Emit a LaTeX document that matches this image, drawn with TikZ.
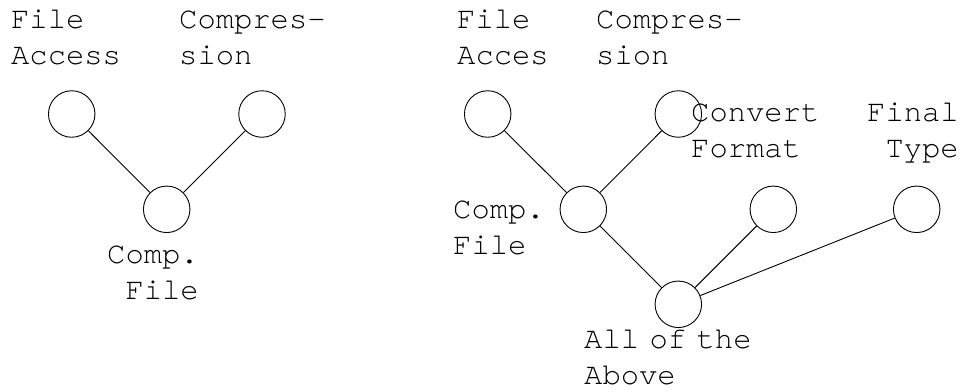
\documentclass[tikz,border=0pt]{standalone}
\usepackage{fontspec}
\setmonofont{TeX Gyre Cursor}
\newcommand{\twoline}[2]{\vtop{\hbox{#1}\hbox{#2}}}
\begin{document}
\begin{tikzpicture}[x=1pt,y=-1pt,
  vert/.style={circle,draw,line width=0.9pt,minimum size=46.5pt,inner sep=0pt},
  lbl/.style={anchor=base west,inner sep=0pt,font=\ttfamily\fontsize{30.5}{36}\selectfont},
  edge/.style={line width=0.9pt}]
\useasboundingbox (0,0) rectangle (963,391);
% left diagram
\node[vert] (a1) at (71.7,114) {};
\node[vert] (b1) at (262,114) {};
\node[vert] (c1) at (166.7,209.3) {};
\node[lbl] (ta1) at (11,28) {\twoline{File}{Access}};
\node[lbl] (tb1) at (179,28) {\twoline{Compres-}{sion}};
\node[lbl] (tc1) at (107,263) {\twoline{Comp.}{\ File}};
\draw[edge] (a1) -- (c1);
\draw[edge] (b1) -- (c1);
% right diagram
\node[vert] (a2) at (487.7,114) {};
\node[vert] (b2) at (678.3,114) {};
\node[vert] (c2) at (583.3,209.3) {};
\node[vert] (d2) at (773.3,209.3) {};
\node[vert] (e2) at (916.7,209.3) {};
\node[vert] (f2) at (678.3,304.3) {};
\node[lbl] (ta2) at (457,28) {\twoline{File}{Acces}};
\node[lbl] (tb2) at (596,28) {\twoline{Compres-}{sion}};
\node[lbl] (tc2) at (453,218.3) {\twoline{Comp.}{File}};
\node[lbl] (td2) at (691,121.7) {\twoline{Convert}{Format}};
\node[lbl] (te2) at (867,121.7) {\twoline{Final}{\ Type}};
\node[lbl] (tf2) at (584,348.3) {\twoline{\spaceskip=10.5pt All of the}{Above}};
\draw[edge] (a2) -- (c2);
\draw[edge] (b2) -- (c2);
\draw[edge] (c2) -- (f2);
\draw[edge] (d2) -- (f2);
\draw[edge] (e2) -- (f2);
\end{tikzpicture}
\end{document}
